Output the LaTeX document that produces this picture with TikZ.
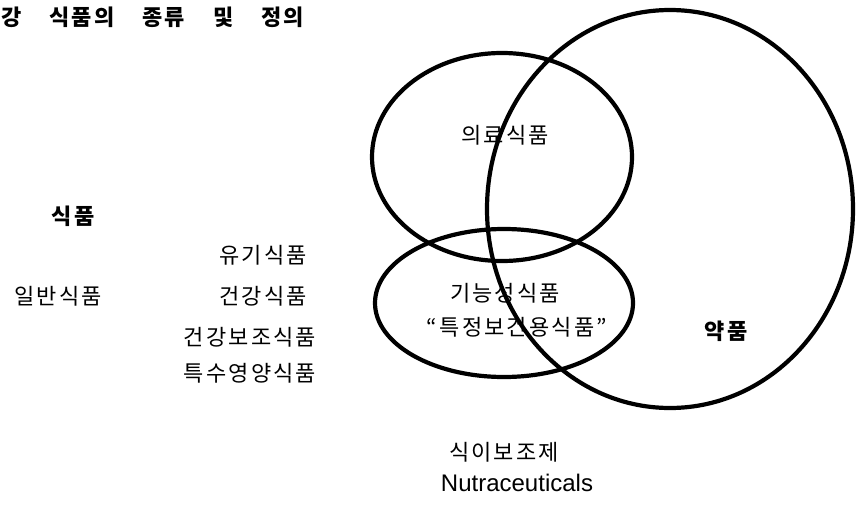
\documentclass[tikz,border=0pt]{standalone}
\usepackage{fontspec}
\setmainfont{Noto Sans CJK KR}
\newfontfamily\krfont[LetterSpace=10]{Noto Sans CJK KR}
\newfontfamily\latinfont{Liberation Sans}
\usetikzlibrary{positioning}
\tikzset{
  krtext/.style={inner sep=0pt, font=\krfont\fontsize{22}{26}\selectfont},
  krbold/.style={inner sep=0pt, font=\krfont\bfseries\fontsize{22}{26}\selectfont},
  venn/.style={draw=black, line width=4.2pt}
}
\newcommand{\wordgap}{\hspace{28pt}}
\begin{document}
\begin{tikzpicture}[x=1pt, y=-1pt]
  \useasboundingbox (0,0) rectangle (856,506);

  % Title
  \node[krbold, anchor=west] (title) at (1,17) {강\wordgap 식품의\wordgap 종류\wordgap 및\wordgap 정의};

  % Venn sets
  \draw[venn] (502,157) ellipse (130 and 104);
  \draw[venn] (504,303) ellipse (129 and 74);
  \draw[venn] (670,209) ellipse (183 and 199);

  % Left column
  \node[krbold] (food) at (73,216) {식품};
  \node[krtext] (organic) at (263,255) {유기식품};
  \node[krtext] (general) at (58,296) {일반식품};
  \node[krtext] (health) at (263,296) {건강식품};
  \node[krtext] (suppl) at (250,337) {건강보조식품};
  \node[krtext] (special) at (250,373) {특수영양식품};

  % Inside the sets
  \node[krtext] (medical) at (505,135) {의료식품};
  \node[krtext] (functional) at (505,293) {기능성식품};
  \node[krtext] (foshu) at (517,327) {“특정보건용식품”};
  \node[krbold] (drug) at (726,331) {약품};

  % Below
  \node[krtext] (dietary) at (504,452) {식이보조제};
  \node[inner sep=0pt, font=\latinfont\fontsize{24}{28}\selectfont] (nutra) at (517,483) {Nutraceuticals};
\end{tikzpicture}
\end{document}
